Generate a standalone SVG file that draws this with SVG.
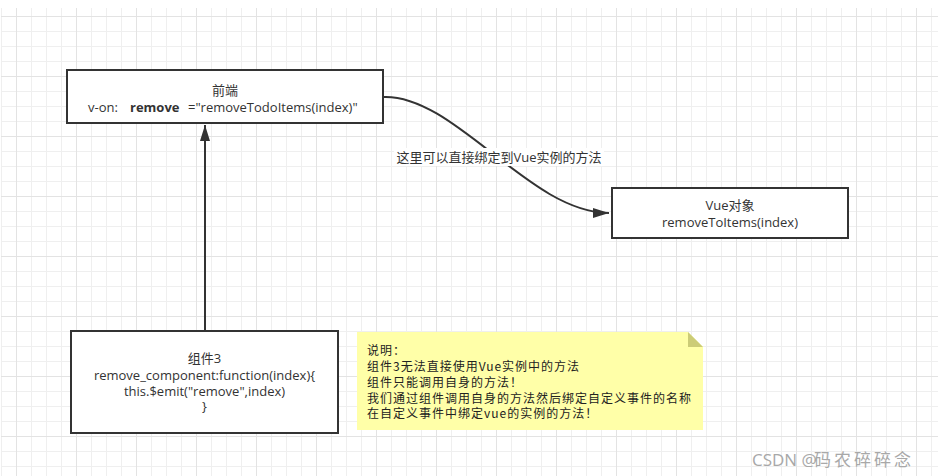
<svg xmlns="http://www.w3.org/2000/svg" width="938" height="476" viewBox="0 0 938 476">
<style>
.box{fill:#fff;stroke:#333;stroke-width:2}
.t{font-family:"Open Sans","Noto Sans CJK SC",sans-serif;font-size:13px;fill:#333}
.c{text-anchor:middle}
.note{font-family:"Noto Sans CJK SC",sans-serif;font-size:12px;letter-spacing:1px;fill:#222}
.edge{fill:none;stroke:#333;stroke-width:2}
</style>
<defs>
<pattern id="grid" patternUnits="userSpaceOnUse" x="1" y="1" width="60" height="60">
<path d="M0.5 0V60M15.5 0V60M30.5 0V60M45.5 0V60M0 0.5H60M0 15.5H60M0 30.5H60M0 45.5H60" stroke="#efefef" stroke-width="1" fill="none"/>
<path d="M15.5 0V60M0 15.5H60" stroke="#e3e3e3" stroke-width="1" fill="none"/>
</pattern>
<marker id="arr" markerUnits="userSpaceOnUse" viewBox="0 0 16 10" refX="16" refY="5" markerWidth="16" markerHeight="10" orient="auto">
<path d="M0 0L16 5L0 10z" fill="#333"/>
</marker>
</defs>
<rect x="0" y="0" width="938" height="476" fill="#fff"/>
<rect x="1" y="8" width="937" height="468" fill="url(#grid)"/>

<g id="connectors">
<path class="edge" d="M205 330V125" marker-end="url(#arr)"/>
<path class="edge" d="M384 97C455 95 530 213 609 213" marker-end="url(#arr)"/>
<rect x="394" y="148" width="210" height="18" fill="#fff"/>
<text class="t c" x="499" y="161.5">这里可以直接绑定到Vue实例的方法</text>
</g>

<g id="frontend">
<rect class="box" x="67" y="70" width="316" height="53"/>
<text class="t c" x="225" y="94.5">前端</text>
<text class="t" y="111.5"><tspan x="88">v-on:</tspan><tspan x="130" font-weight="bold">remove</tspan><tspan x="188">="removeTodoItems(index)"</tspan></text>
</g>

<g id="vue">
<rect class="box" x="612" y="188" width="236" height="50"/>
<text class="t c" x="730" y="209.5">Vue对象</text>
<text class="t c" x="730" y="226.5">removeToItems(index)</text>
</g>

<g id="component3">
<rect class="box" x="71" y="331" width="267" height="102"/>
<text class="t c" x="204.5" y="362.5">组件3</text>
<text class="t c" x="204.5" y="379.5">remove_component:function(index){</text>
<text class="t c" x="204.5" y="395.5">this.$emit("remove",index)</text>
<text class="t c" x="204.5" y="410.5">}</text>
</g>

<g id="note">
<path d="M357 332H688L703 347V430H357Z" fill="#ffffa8"/>
<path d="M688 332V347H703Z" fill="#cccc77"/>
<text class="note" x="367" y="355">说明：</text>
<text class="note" x="367" y="371">组件3无法直接使用Vue实例中的方法</text>
<text class="note" x="367" y="387">组件只能调用自身的方法！</text>
<text class="note" x="367" y="402.5">我们通过组件调用自身的方法然后绑定自定义事件的名称</text>
<text class="note" x="367" y="418">在自定义事件中绑定vue的实例的方法！</text>
</g>

<g id="watermark">
<text x="752" y="466" font-family="'Open Sans','Noto Sans CJK SC',sans-serif" font-size="17" fill="#a8a8a8">CSDN @<tspan x="814" letter-spacing="3">码农碎碎念</tspan></text>
</g>
</svg>
